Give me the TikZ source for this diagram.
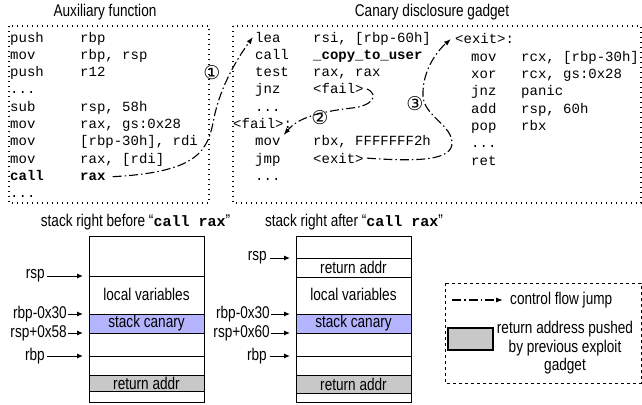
\documentclass[tikz,border=0pt]{standalone}
\usepackage{fontspec}
\setsansfont{Liberation Sans}[FakeStretch=0.8]
\setmonofont{Liberation Mono}
\newfontfamily\circfont{DejaVu Sans}
\usepackage{xcolor}
\usepackage{tikz}
\usetikzlibrary{arrows.meta}

\definecolor{canaryblue}{RGB}{180,180,255}
\definecolor{retgray}{RGB}{200,200,200}
\newcommand\elided{...}

\tikzset{
  code/.style={anchor=base west, inner sep=0pt, font=\fontsize{14}{17}\ttfamily},
  title/.style={font=\fontsize{17}{19}\sffamily},
  slot/.style={font=\fontsize{17}{19}\sffamily, inner sep=0pt},
  reg/.style={anchor=east, inner sep=0pt, font=\fontsize{17}{19}\sffamily},
  frame/.style={line width=1.2pt, dash pattern=on 1.2pt off 3.8pt},
  flow/.style={line width=1.1pt, dash pattern=on 9pt off 3pt on 1.5pt off 3pt,
    -{Latex[length=7pt,width=5pt]}},
  ptr/.style={line width=1pt, -{Latex[length=6pt,width=5pt]}},
  step num/.style={font=\fontsize{19}{19}\circfont, inner sep=0pt}
}

\begin{document}
\begin{tikzpicture}[x=1pt, y=-1pt]
    \useasboundingbox (0,0) rectangle (642,404);

    % code boxes
    \node[title] (auxtitle) at (105,12) {Auxiliary function};
    \node[title] (gadtitle) at (432,12) {Canary disclosure gadget};
    \draw[frame] (9,26) rectangle (209,203);
    \draw[frame] (233,26) rectangle (641,203);

    \foreach \m/\o [count=\i] in {push/rbp, mov/{rbp, rsp}, push/r12, \elided/{},
        sub/{rsp, 58h}, mov/{rax, gs:0x28}, mov/{[rbp-30h], rdi}, mov/{rax, [rdi]}}
    {
      \node[code] (a\i) at (10,{42+(\i-1)*17.3}) {\m};
      \node[code] (ao\i) at (80,{42+(\i-1)*17.3}) {\o};
    }
    \node[code] (a9) at (10,180.4) {\bfseries call};
    \node[code] (ao9) at (80,180.4) {\bfseries rax};
    \node[code] (a10) at (10,197.7) {\elided};

    \node[code] (b1) at (255,42) {lea};
    \node[code] (bo1) at (313,42) {rsi, [rbp-60h]};
    \node[code] (b2) at (255,59.3) {call};
    \node[code] (bo2) at (313,59.3) {\bfseries \_copy\_to\_user};
    \node[code] (b3) at (255,76.6) {test};
    \node[code] (bo3) at (313,76.6) {rax, rax};
    \node[code] (b4) at (255,93.9) {jnz};
    \node[code] (bo4) at (313,93.9) {<fail>};
    \node[code] (b5) at (255,111.2) {\elided};
    \node[code] (b6) at (233,128.5) {<fail>:};
    \node[code] (b7) at (255,145.8) {mov};
    \node[code] (bo7) at (313,145.8) {rbx, FFFFFFF2h};
    \node[code] (b8) at (255,163.1) {jmp};
    \node[code] (bo8) at (313,163.1) {<exit>};
    \node[code] (b9) at (255,180.4) {\elided};

    \node[code] (c1) at (455,44) {<exit>:};
    \foreach \m/\o [count=\i from 2] in {mov/{rcx, [rbp-30h]}, xor/{rcx, gs:0x28},
        jnz/panic, add/{rsp, 60h}, pop/rbx, \elided/{}, ret/{}}
    {
      \node[code] (c\i) at (471,{44+(\i-1)*17.3}) {\m};
      \node[code] (co\i) at (521,{44+(\i-1)*17.3}) {\o};
    }

    % jumps
    \draw[flow] ([xshift=7pt]ao9.east) .. controls (200,172) and (208,150) .. (214,118)
      .. controls (220,88) and (236,60) .. ([xshift=-2pt]b1.west);
    \draw[flow] ([xshift=3pt]bo4.east) .. controls (380,95) and (372,106) .. (352,108)
      .. controls (318,112) and (298,118) .. ([shift={(3pt,3pt)}]b7.north east);
    \draw[flow] ([xshift=3pt]bo8.east) .. controls (420,162) and (452,160) .. (452,143)
      .. controls (452,125) and (424,116) .. (423,96)
      .. controls (422,72) and (436,52) .. ([xshift=-4pt]c1.west);
    \node[step num] (n1) at (212,73) {①};
    \node[step num] (n2) at (320,118) {②};
    \node[step num] (n3) at (415,104) {③};

    % stack before
    \node[title] (beforetitle) at (135.5,222)
      {stack right before “{\fontsize{15}{15}\ttfamily\bfseries call rax}”};
    \filldraw[fill=canaryblue] (89,314) rectangle (204,333);
    \filldraw[fill=retgray] (89,375) rectangle (204,391);
    \draw (89,236) rectangle (204,402);
    \draw (89,276) -- (204,276);
    \draw (89,356) -- (204,356);
    \node[slot] (lvars) at (146.5,294) {local variables};
    \node[slot] (lcan) at (146.5,323.5) {stack canary};
    \node[slot] (lret) at (146.5,383) {return addr};

    \node[reg] (lrsp) at (45,276) {rsp};
    \node[reg] (lrbpc) at (67,314) {rbp-0x30};
    \node[reg] (lrspc) at (67,333) {rsp+0x58};
    \node[reg] (lrbp) at (45,356) {rbp};
    \coordinate (lp1) at (83,276);
    \coordinate (lp2) at (83,314);
    \coordinate (lp3) at (83,333);
    \coordinate (lp4) at (83,356);
    \draw[ptr] ([xshift=2pt]lrsp.east) -- (lp1);
    \draw[ptr] ([xshift=1pt]lrbpc.east) -- (lp2);
    \draw[ptr] ([xshift=1pt]lrspc.east) -- (lp3);
    \draw[ptr] ([xshift=2pt]lrbp.east) -- (lp4);

    % stack after
    \node[title] (aftertitle) at (354,222)
      {stack right after “{\fontsize{15}{15}\ttfamily\bfseries call rax}”};
    \filldraw[fill=canaryblue] (296,314) rectangle (411,333);
    \filldraw[fill=retgray] (296,375) rectangle (411,393);
    \draw (296,236) rectangle (411,402);
    \draw (296,258) -- (411,258);
    \draw (296,277) -- (411,277);
    \draw (296,356) -- (411,356);
    \node[slot] (rret1) at (353.5,267.5) {return addr};
    \node[slot] (rvars) at (353.5,294) {local variables};
    \node[slot] (rcan) at (353.5,323.5) {stack canary};
    \node[slot] (rret2) at (353.5,384) {return addr};

    \node[reg] (rrsp) at (267,258) {rsp};
    \node[reg] (rrbpc) at (270,314) {rbp-0x30};
    \node[reg] (rrspc) at (270,333) {rsp+0x60};
    \node[reg] (rrbp) at (267,356) {rbp};
    \coordinate (rp1) at (290,258);
    \coordinate (rp2) at (290,314);
    \coordinate (rp3) at (290,333);
    \coordinate (rp4) at (290,356);
    \draw[ptr] ([xshift=3pt]rrsp.east) -- (rp1);
    \draw[ptr] ([xshift=1pt]rrbpc.east) -- (rp2);
    \draw[ptr] ([xshift=1pt]rrspc.east) -- (rp3);
    \draw[ptr] ([xshift=3pt]rrbp.east) -- (rp4);

    % legend
    \draw[line width=1pt, dashed] (445,283) rectangle (641,383);
    \coordinate (lgA) at (452,300);
    \coordinate (lgB) at (503,300);
    \draw[flow] (lgA) -- (lgB);
    \node[slot, anchor=west] (lgflow) at (510,300) {control flow jump};
    \filldraw[fill=retgray, line width=1.5pt] (448,328) rectangle (493,350);
    \node[slot, align=center, font=\fontsize{17}{18.5}\sffamily] (lgret) at (565,348)
      {return address pushed\\by previous exploit\\gadget};
\end{tikzpicture}
\end{document}
